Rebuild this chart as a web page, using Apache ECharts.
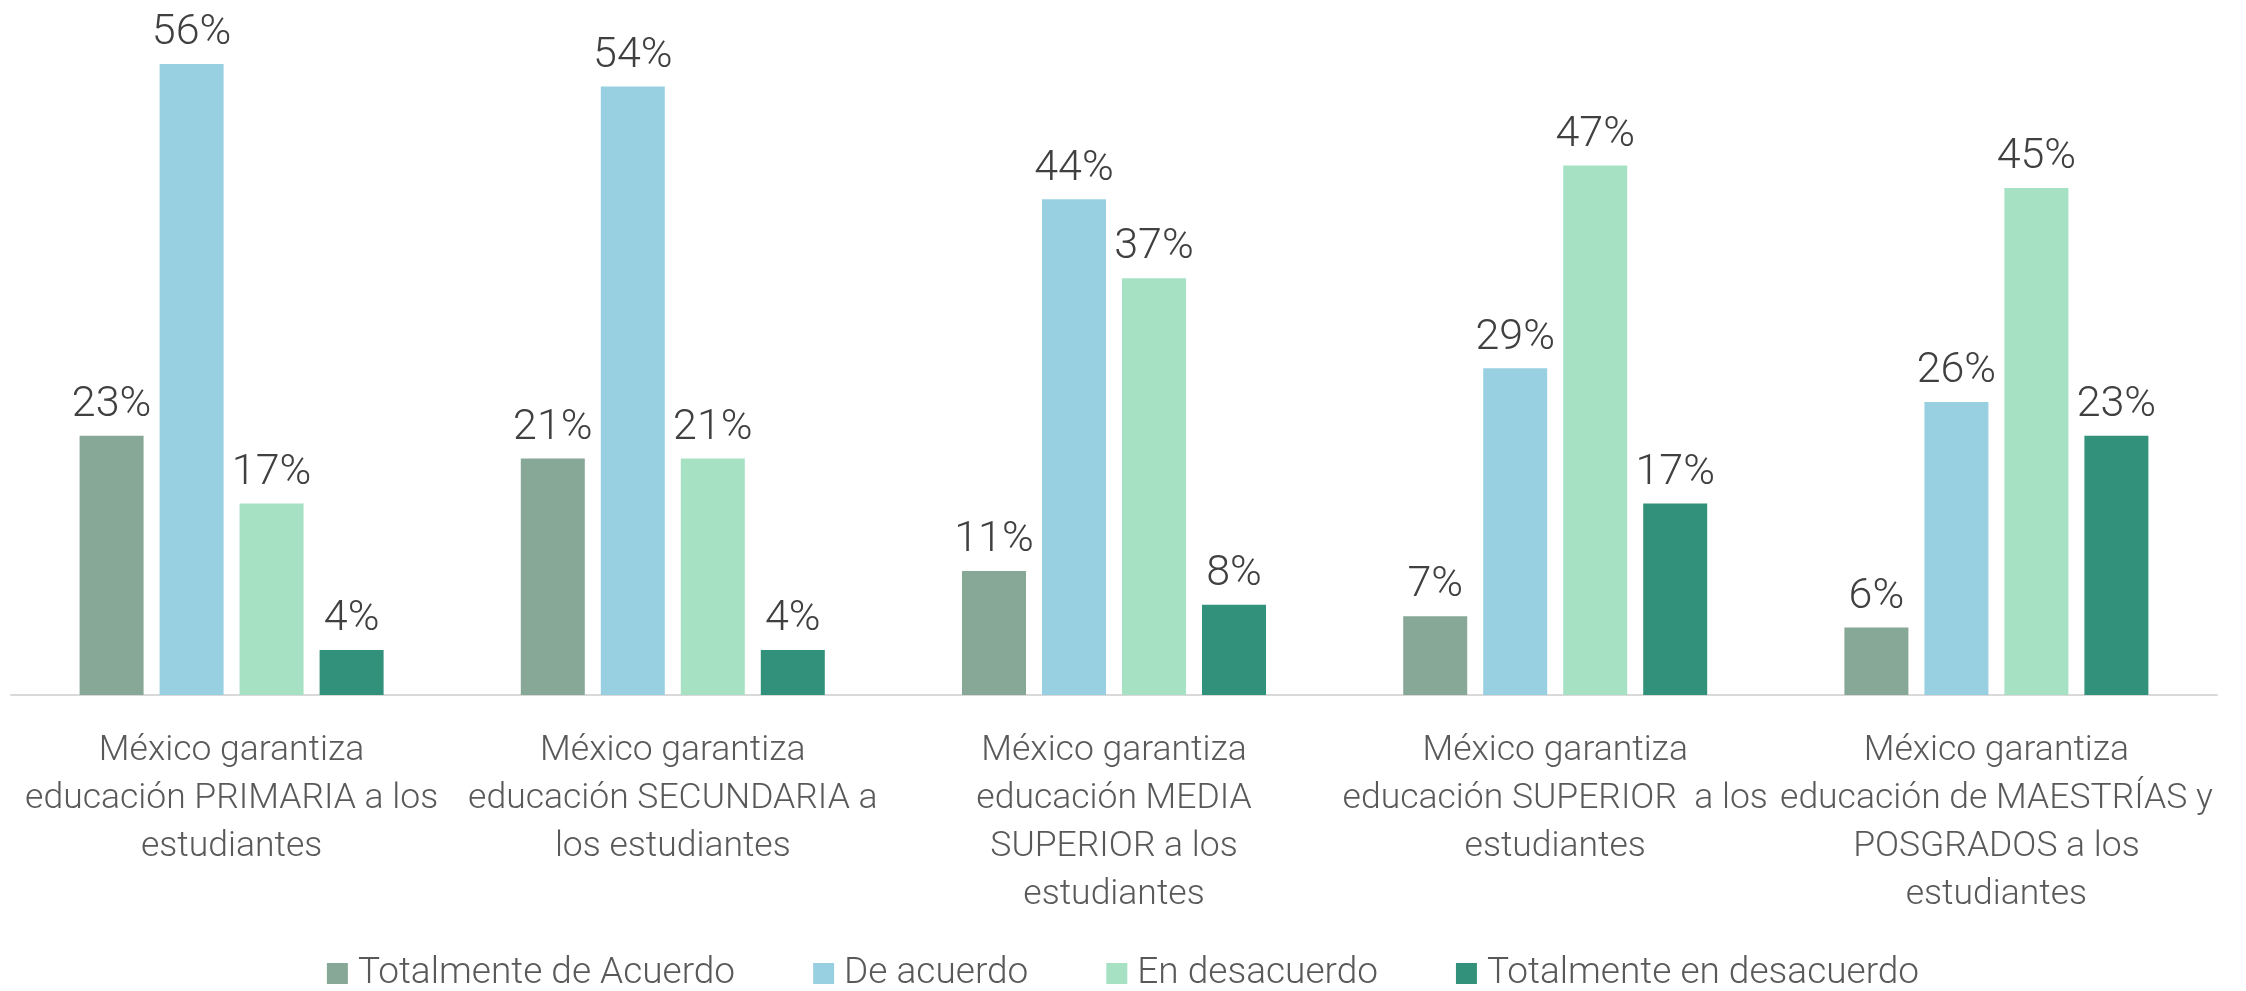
<!DOCTYPE html>
<html>
<head>
<meta charset="utf-8">
<script src="https://cdn.jsdelivr.net/npm/echarts@6/dist/echarts.min.js"></script>
<style>
  html, body { margin: 0; padding: 0; background: #fff; }
  #chart { width: 2246px; height: 991px; }
</style>
</head>
<body>
<div id="chart"></div>
<script>
// Categories (axis labels, with the original line breaks)
var categories = [
    'México garantiza\neducación PRIMARIA a los\nestudiantes',
    'México garantiza\neducación SECUNDARIA a\nlos estudiantes',
    'México garantiza\neducación MEDIA\nSUPERIOR a los\nestudiantes',
    'México garantiza\neducación SUPERIOR  a los\nestudiantes',
    'México garantiza\neducación de MAESTRÍAS y\nPOSGRADOS a los\nestudiantes'
];

var seriesNames = ['Totalmente de Acuerdo', 'De acuerdo', 'En desacuerdo', 'Totalmente en desacuerdo'];

// Percent values per series
var totalmenteAcuerdo = [23, 21, 11, 7, 6];
var deAcuerdo = [56, 54, 44, 29, 26];
var enDesacuerdo = [17, 21, 37, 47, 45];
var totalmenteDesacuerdo = [4, 4, 8, 17, 23];

var colors = ['#87A896', '#98D0E2', '#A7E1C4', '#32917A'];

var fontFamily = 'Roboto, "Noto Sans", sans-serif';

var chart = echarts.init(document.getElementById('chart'));

function makeSeries(name, data, color) {
    return {
        name: name,
        type: 'bar',
        data: data,
        barWidth: 64,
        barGap: '25%',
        itemStyle: { color: color },
        label: {
            show: true,
            position: 'top',
            distance: 9,
            formatter: '{c}%',
            color: '#404040',
            fontFamily: fontFamily,
            fontWeight: 300,
            fontSize: 43
        }
    };
}

var option = {
    animation: false,
    grid: {
        left: 11,
        right: 29,
        top: 19,
        bottom: 296,
        containLabel: false
    },
    legend: {
        top: 950,
        left: 'center',
        itemWidth: 21,
        itemHeight: 21,
        itemGap: 78,
        icon: 'rect',
        textStyle: {
            fontFamily: fontFamily,
            fontWeight: 300,
            fontSize: 37,
            color: '#595959',
            padding: [0, 0, 0, 5]
        },
        data: seriesNames
    },
    xAxis: {
        type: 'category',
        data: categories,
        axisTick: { show: false },
        axisLine: { lineStyle: { color: '#D9D9D9', width: 2 } },
        axisLabel: {
            interval: 0,
            margin: 32,
            color: '#595959',
            fontFamily: fontFamily,
            fontWeight: 300,
            fontSize: 35.5,
            lineHeight: 48
        }
    },
    yAxis: {
        type: 'value',
        min: 0,
        max: 60,
        show: false,
        splitLine: { show: false }
    },
    series: [
        makeSeries(seriesNames[0], totalmenteAcuerdo, colors[0]),
        makeSeries(seriesNames[1], deAcuerdo, colors[1]),
        makeSeries(seriesNames[2], enDesacuerdo, colors[2]),
        makeSeries(seriesNames[3], totalmenteDesacuerdo, colors[3])
    ]
};

chart.setOption(option);
</script>
</body>
</html>
